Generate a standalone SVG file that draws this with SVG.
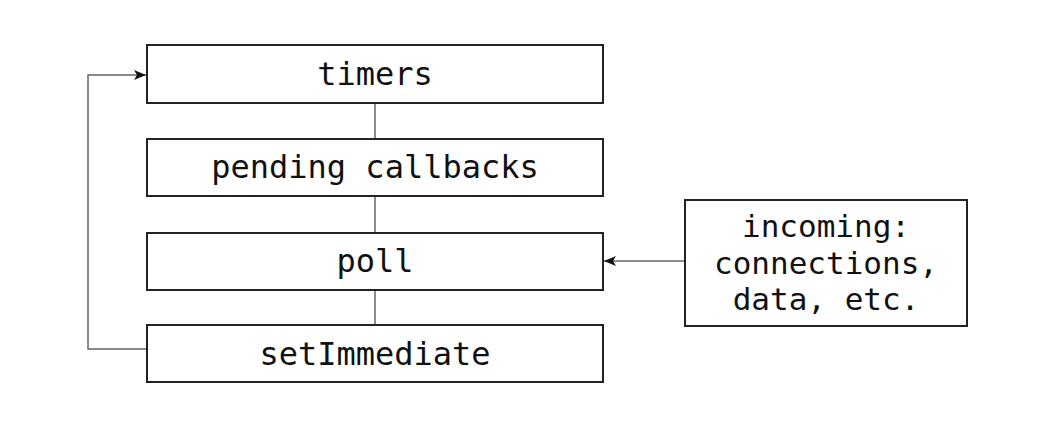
<svg xmlns="http://www.w3.org/2000/svg" width="1040" height="438" viewBox="0 0 1040 438">
<defs>
<style>
.box{fill:#fff;stroke:#222;stroke-width:2}
.lbl{font-family:"DejaVu Sans Mono",monospace;font-size:32px;fill:#111;text-anchor:middle}
.sm{font-size:31px}
.con{fill:none;stroke:#666;stroke-width:1.5}
</style>
<marker id="ah" viewBox="0 0 12 10" refX="12" refY="5" markerWidth="12" markerHeight="10" markerUnits="userSpaceOnUse" orient="auto">
<path d="M0,0 L12,5 L0,10 L3,5 Z" fill="#111"/>
</marker>
</defs>
<rect width="1040" height="438" fill="#fff"/>
<g id="connectors">
<line class="con" x1="375" y1="103" x2="375" y2="139"/>
<line class="con" x1="375" y1="196" x2="375" y2="233"/>
<line class="con" x1="375" y1="290" x2="375" y2="325"/>
<polyline class="con" points="147,349 88,349 88,75 146,75" marker-end="url(#ah)"/>
<line class="con" x1="685" y1="261" x2="604" y2="261" marker-end="url(#ah)"/>
</g>
<g id="timers">
<rect class="box" x="147" y="45" width="456" height="58"/>
<text class="lbl" x="375" y="85">timers</text>
</g>
<g id="pending">
<rect class="box" x="147" y="139" width="456" height="57"/>
<text class="lbl" x="375" y="178">pending callbacks</text>
</g>
<g id="poll">
<rect class="box" x="147" y="233" width="456" height="57"/>
<text class="lbl" x="375" y="272">poll</text>
</g>
<g id="setImmediate">
<rect class="box" x="147" y="325" width="456" height="57"/>
<text class="lbl" x="375" y="365">setImmediate</text>
</g>
<g id="incoming">
<rect class="box" x="685" y="200" width="282" height="126"/>
<text class="lbl sm" x="826" y="237">incoming:</text>
<text class="lbl sm" x="826" y="273.5">connections,</text>
<text class="lbl sm" x="826" y="310">data, etc.</text>
</g>
</svg>
